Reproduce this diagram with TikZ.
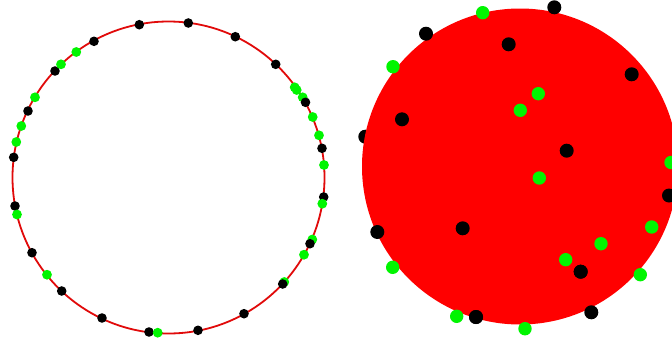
\documentclass[tikz,border=0pt]{standalone}
\definecolor{dotgreen}{RGB}{0,245,0}
\definecolor{diskred}{RGB}{255,0,0}
\definecolor{ringred}{RGB}{225,10,10}
\tikzset{
  sb/.style={fill=black},
  sg/.style={fill=dotgreen},
}
\begin{document}
\begin{tikzpicture}[x=1pt,y=-1pt]
\useasboundingbox (0,0) rectangle (672,338);
\fill[white] (0,0) rectangle (672,338);
% ---------- left ring ----------
\draw[ringred,line width=1.8pt] (168.5,177.5) circle (156);
\def\rs{4.8}
% black dots (under)
\foreach \p in {(139.3,24.7),(188.3,23),(235.3,36.7),(275.7,64.3),(322,148.3),
  (94,41.3),(55,71),(28,111),(13.7,157.3),(15,206),(32,252.7),(61.7,291),
  (102,318),(149,332),(198,330.3),(244,313.7),(323.7,197)}
  \fill[sb] \p circle (\rs);
% green dots
\foreach \p in {(76.3,52),(61,64.3),(35,97.3),(21.3,126),(16.3,142),(294.7,87.3),
  (296.7,90),(302.7,97.3),(312.7,117),(319,135.3),(324,165),(17,214.5),
  (47,274.7),(157.7,332.7),(284.3,282),(304,254.7),(312.3,239.5),(322.3,203.7)}
  \fill[sg] \p circle (4.9);
% black dots (over)
\foreach \p in {(305.5,102.3),(282.7,284),(310,243.7)}
  \fill[sb] \p circle (\rs);
% ---------- right disk ----------
\fill[sb] (365.3,136.7) circle (7);
\fill[diskred] (520,166.5) circle (158);
\foreach \p in {(554.3,7.3),(426,33.7),(508.7,44.3),(631.7,74.3),(402,119.3),
  (566.7,150.7),(669,195.5),(377.3,232),(462.7,228.3),(580.7,271.7),
  (476,317),(591.3,312.3)}
  \fill[sb] \p circle (7);
\foreach \p in {(482.7,12.7),(393,66.7),(538.3,93.7),(520.3,110.3),(671,162.5),
  (539.3,178),(651.7,227),(601,243.7),(565.7,259.7),(392.7,267.3),
  (640.3,274.7),(456.7,316.3),(525,328.7)}
  \fill[sg] \p circle (6.7);
% redraw black overlapping green at bottom
\fill[sb] (476,317) circle (7);
\fill[sb] (580.7,271.7) circle (7);
\end{tikzpicture}
\end{document}
